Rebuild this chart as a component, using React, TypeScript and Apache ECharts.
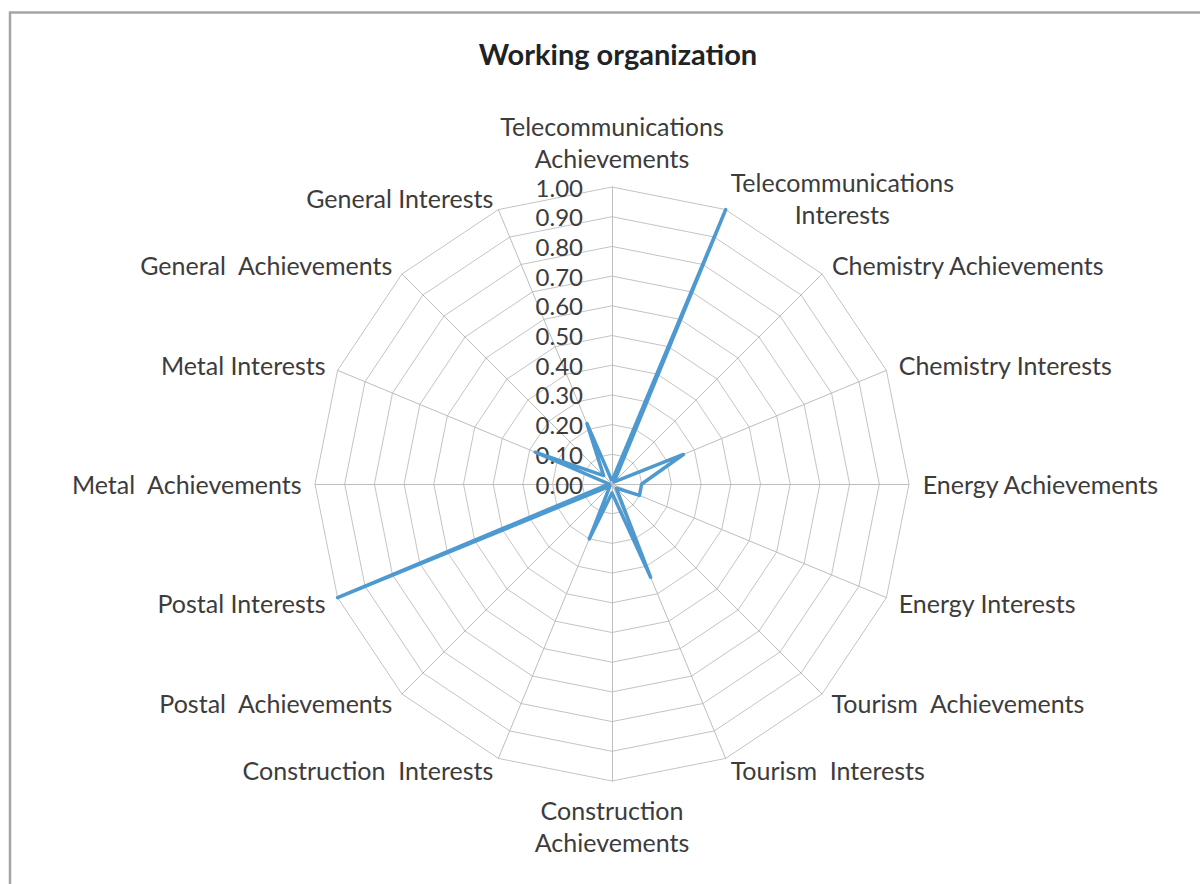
import React, { useEffect, useRef } from "react";
import * as echarts from "echarts";

// Categories listed clockwise from the top, as in the reference
const categories: string[] = [
  "Telecommunications\nAchievements",
  "Telecommunications\nInterests",
  "Chemistry Achievements",
  "Chemistry Interests",
  "Energy Achievements",
  "Energy Interests",
  "Tourism  Achievements",
  "Tourism  Interests",
  "Construction\nAchievements",
  "Construction  Interests",
  "Postal  Achievements",
  "Postal Interests",
  "Metal  Achievements",
  "Metal Interests",
  "General  Achievements",
  "General Interests",
];

const values: number[] = [
  0.01, 1.0, 0.01, 0.26, 0.1, 0.1, 0.02, 0.34, 0.03, 0.2, 0.01, 1.0, 0.01, 0.28, 0.04, 0.22,
];

const axisMin = 0;
const axisMax = 1;
const splitCount = 10;

const FONT = "Lato, 'Noto Sans', sans-serif";
const TEXT_COLOR = "#3c3c3c";

export default function App() {
  const ref = useRef<HTMLDivElement>(null);
  useEffect(() => {
    if (!ref.current) return;
    const chart = echarts.init(ref.current, undefined, { renderer: "svg" });
    // ECharts lays radar indicators counter-clockwise; reorder so they read clockwise
    const order = categories.map((_, i) => (i === 0 ? 0 : categories.length - i));
    const indicator = order.map((idx, i) => {
      const base: any = { name: categories[idx], min: axisMin, max: axisMax };
      if (i === 0) {
        base.axisLabel = {
          show: true,
          color: TEXT_COLOR,
          fontSize: 24,
          fontFamily: FONT,
          margin: 29,
          formatter: (v: number) => Number(v).toFixed(2),
        };
      }
      return base;
    });
    const orderedValues = order.map((idx) => values[idx]);
    chart.setOption({
      animation: false,
      backgroundColor: "#ffffff",
      title: {
        text: "Working organization",
        left: 613,
        top: 34,
        textAlign: "center",
        textStyle: {
          fontFamily: FONT,
          fontSize: 29,
          fontWeight: "bold",
          color: "#1e2326",
        },
      },
      graphic: [
        {
          type: "rect",
          shape: { x: 10, y: 12.5, width: 1400, height: 1000 },
          style: { fill: "none", stroke: "#a3a6a9", lineWidth: 2.5 },
          silent: true,
        },
      ],
      radar: {
        center: [612, 484],
        radius: 297,
        startAngle: 90,
        shape: "polygon",
        splitNumber: splitCount,
        nameGap: 13,
        axisName: {
          color: TEXT_COLOR,
          fontSize: 25,
          fontFamily: FONT,
          lineHeight: 32,
          formatter: (name: string) =>
            name
              .split("\n")
              .map((s) => "{c|" + s + "}")
              .join("\n"),
          rich: {
            c: {
              align: "center",
              color: TEXT_COLOR,
              fontSize: 25,
              fontFamily: FONT,
              lineHeight: 32,
            },
          },
        },
        axisLine: { show: true, lineStyle: { color: "#bdbdbd", width: 1 } },
        splitLine: { show: true, lineStyle: { color: "#c4c4c4", width: 1 } },
        splitArea: { show: false },
        axisTick: { show: false },
        axisLabel: { show: false },
        indicator,
      },
      series: [
        {
          type: "radar",
          symbol: "none",
          lineStyle: { color: "#4e9ad0", width: 3.5, join: "round" },
          itemStyle: { color: "#4e9ad0" },
          data: [{ value: orderedValues, name: "Working organization" }],
        },
      ],
    });
    return () => chart.dispose();
  }, []);
  return (
    <div
      ref={ref}
      style={{ position: "fixed", left: 0, top: 0, width: 1200, height: 884 }}
    />
  );
}
